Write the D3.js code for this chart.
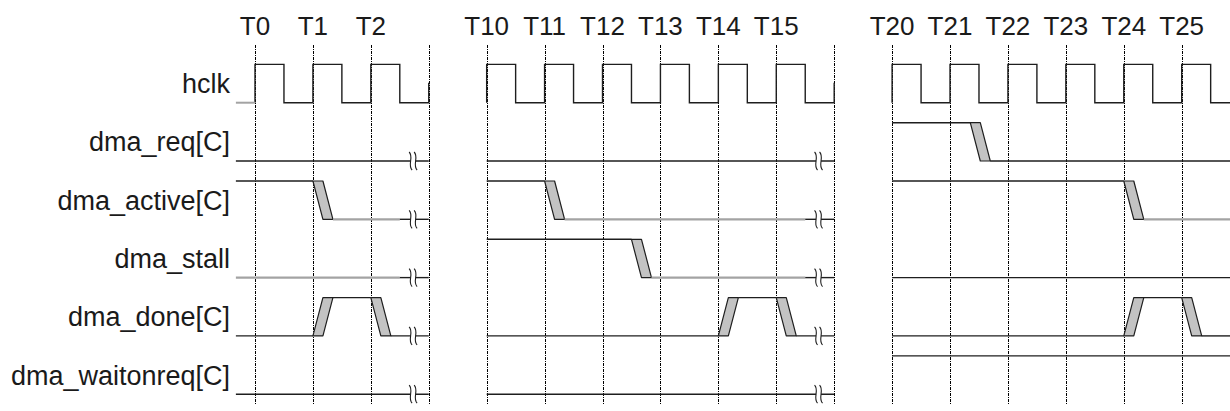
<!DOCTYPE html>
<html><head><meta charset="utf-8">
<script src="https://cdn.jsdelivr.net/npm/d3@7"></script>
<style>body{margin:0;background:#fff}svg{display:block}</style>
</head><body><svg id="c" width="1230" height="411"></svg>
<script>
// ---------- data ----------
const signalNames = ["hclk","dma_req[C]","dma_active[C]","dma_stall","dma_done[C]","dma_waitonreq[C]"];
const tickIndex = d3.range(0, 17);
const tickLabels = ["T0","T1","T2","","T10","T11","T12","T13","T14","T15","","T20","T21","T22","T23","T24","T25"];
const panelStart = [-0.33, 4, 11];
const panelEnd = [3, 10, 16.84];
const panelBreak = [true, true, false];
// waveforms per panel: [time (clock periods), state]  1 = high, 0 = low, "i" = idle low
const hclkLead   = [[[-0.33,"i"]], [], []];
const dmaReq     = [[[-0.33,0]], [[4,0]], [[11,1],[12.35,0]]];
const dmaActive  = [[[-0.33,1],[1,"i"]], [[4,1],[5,"i"]], [[11,1],[15,"i"]]];
const dmaStall   = [[[-0.33,"i"]], [[4,1],[6.5,"i"]], [[11,0]]];
const dmaDone    = [[[-0.33,0],[1,1],[2,0]], [[4,0],[8,1],[9,0]], [[11,0],[15,1],[16,0]]];
const dmaWaitReq = [[[-0.33,0]], [[4,0]], [[11,1]]];
const waves = [null, dmaReq, dmaActive, dmaStall, dmaDone, dmaWaitReq];

// ---------- layout ----------
const svg = d3.select("#c");
const x = d3.scaleLinear().domain([0, 16]).range([255, 1181.7]);
const yLowS = d3.scalePoint().domain(signalNames).range([102.7, 394.2]);
const AMP = 38.3, SLOPE = 10;
const BLACK = "#1e1e1e", GREY = "#a3a3a3", FILL = "#c3c3c3";
const FONT = "'Liberation Sans', Arial, Helvetica, sans-serif";

// grid (dashed vertical lines)
svg.append("g").selectAll("line").data(tickIndex).join("line")
  .attr("x1", d => Math.round(x(d)) + 0.5).attr("x2", d => Math.round(x(d)) + 0.5)
  .attr("y1", 45).attr("y2", 405)
  .attr("stroke", "#000").attr("stroke-width", 1)
  .attr("shape-rendering", "crispEdges")
  .attr("stroke-dasharray", "3,1,1,1");

// tick labels
svg.append("g").selectAll("text").data(tickIndex.filter(i => tickLabels[i] !== "")).join("text")
  .attr("x", d => x(d)).attr("y", 35)
  .attr("text-anchor", "middle")
  .attr("font-family", FONT).attr("font-size", 26).attr("fill", "#1a1a1a")
  .text(d => tickLabels[d]);

// signal labels
svg.append("g").selectAll("text").data(signalNames).join("text")
  .attr("x", 230).attr("y", d => yLowS(d) - AMP / 2 + 9.5)
  .attr("text-anchor", "end")
  .attr("font-family", FONT).attr("font-size", 27).attr("fill", "#1a1a1a")
  .text(d => d);

const gW = svg.append("g").attr("fill", "none");

// clock
const hy = yLowS("hclk"), hyH = hy - AMP;
function clockPath(p) {
  const s = Math.max(0, Math.ceil(panelStart[p]));
  const e = panelEnd[p];
  let d = `M${x(s)},${hy}`;
  for (let t = s; t < e; t += 1) {
    d += `V${hyH}H${x(Math.min(t + 0.5, e))}`;
    if (t + 0.5 >= e) break;
    d += `V${hy}H${x(Math.min(t + 1, e))}`;
  }
  if (panelBreak[p]) d += `V${hy - 20}`;
  return d;
}
[0, 1, 2].forEach(p => {
  gW.append("path").attr("d", clockPath(p)).attr("stroke", BLACK).attr("stroke-width", 1.4);
  hclkLead[p].forEach(([t]) => {
    gW.append("line").attr("x1", x(t)).attr("x2", x(Math.max(0, Math.ceil(panelStart[p]))))
      .attr("y1", hy).attr("y2", hy).attr("stroke", GREY).attr("stroke-width", 2);
  });
});

// other signals
function seg(x1, x2, y, col, w) {
  if (x2 <= x1) return;
  gW.append("line").attr("x1", x1).attr("x2", x2).attr("y1", y).attr("y2", y)
    .attr("stroke", col).attr("stroke-width", w);
}
signalNames.forEach((name, si) => {
  if (si === 0) return;
  const yl = yLowS(name), yh = yl - AMP;
  const lv = s => (s === 1 ? yh : yl);
  waves[si].forEach((ev, p) => {
    const end = panelEnd[p];
    const brk = panelBreak[p] ? end - 0.5 : end;
    ev.forEach(([t, s], k) => {
      let x0 = x(t);
      if (k > 0) {
        const prev = ev[k - 1][1];
        if ((prev === 1) !== (s === 1)) {
          const ya = lv(prev), yb = lv(s);
          gW.append("path")
            .attr("d", `M${x0},${ya}L${x0 + SLOPE},${ya}L${x0 + 2 * SLOPE},${yb}L${x0 + SLOPE},${yb}Z`)
            .attr("fill", FILL).attr("stroke", BLACK).attr("stroke-width", 1.2)
            .attr("stroke-linejoin", "round");
          x0 += 2 * SLOPE;
        }
      }
      const tEnd = k < ev.length - 1 ? ev[k + 1][0] : end;
      const y = lv(s);
      if (s === "i") {
        const xb = Math.min(x(tEnd), x(brk));
        seg(x0, xb, y, GREY, 2.2);
        seg(Math.max(x0, x(brk)), x(tEnd), y, BLACK, 1.4);
      } else {
        seg(x0, x(tEnd), y, BLACK, 1.4);
      }
    });
    if (panelBreak[p]) {
      const last = ev[ev.length - 1][1];
      const y = lv(last);
      const bx = x(end - 0.27);
      gW.append("rect").attr("x", bx - 2.5).attr("y", y - 2).attr("width", 5).attr("height", 4)
        .attr("fill", "#fff").attr("stroke", "none");
      [-2.5, 2.5].forEach(o => {
        const cx = bx + o;
        gW.append("path")
          .attr("d", `M${cx - 1.5},${y - 9}C${cx + 3.5},${y - 4} ${cx - 3.5},${y + 4} ${cx + 1.5},${y + 9}`)
          .attr("stroke", BLACK).attr("stroke-width", 1.1);
      });
    }
  });
});
</script>
</body></html>
